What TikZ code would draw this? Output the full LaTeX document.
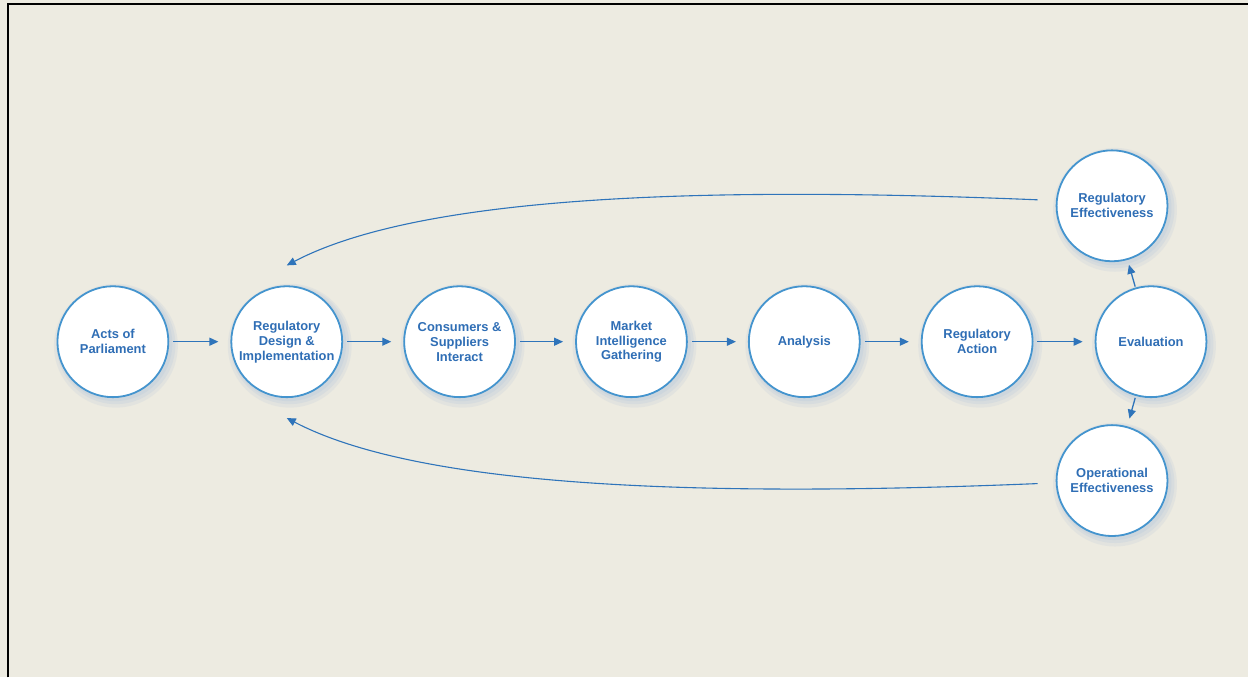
\documentclass[tikz,border=0pt]{standalone}
\usepackage{fontspec}
\setmainfont{Liberation Sans}
\usetikzlibrary{arrows.meta,calc,backgrounds}

\definecolor{paper}{HTML}{EDEBE1}
\definecolor{ring}{HTML}{4494CE}
\definecolor{ink}{HTML}{2F6EB5}
\definecolor{flow}{HTML}{2F74BA}
\definecolor{glow}{HTML}{C3CFDD}

\tikzset{
  stage/.style={circle, draw=ring, line width=1.8pt, fill=white,
    minimum size=111pt, inner sep=0pt, align=center, text=ink,
    font=\bfseries\fontsize{12.9}{15}\selectfont},
  arr/.style={draw=flow, line width=1.3pt,
    -{Triangle[length=9pt,width=8pt]}},
}

\begin{document}
\begin{tikzpicture}[x=1pt,y=-1pt]
  % process stages along the main line
  \node[stage] (ap) at (113,342) {Acts of\\Parliament};
  \node[stage] (rd) at (287,342) {Regulatory\\Design \&\\Implementation};
  \node[stage] (cs) at (460,342) {Consumers \&\\Suppliers\\Interact};
  \node[stage] (mi) at (632,342) {Market\\Intelligence\\Gathering};
  \node[stage] (an) at (805,342) {Analysis};
  \node[stage] (ra) at (978,342) {Regulatory\\Action};
  \node[stage] (ev) at (1152,342) {Evaluation};
  \node[stage] (re) at (1113,206) {Regulatory\\Effectiveness};
  \node[stage] (oe) at (1113,481) {Operational\\Effectiveness};

  % page, frame and soft halos behind the circles
  \begin{scope}[on background layer]
    \fill[paper] (0,0) rectangle (1249,678);
    \draw[black, line width=2.2pt] (8,678) -- (8,4) -- (1249,4);
    \foreach \n in {ap,rd,cs,mi,an,ra,ev,re,oe}{
      \fill[glow, opacity=0.25] ($(\n)+(3,4)$) circle (62);
      \fill[glow, opacity=0.35] ($(\n)+(3,3)$) circle (59.5);
      \fill[glow, opacity=0.45] ($(\n)+(2,2)$) circle (57.5);
    }
  \end{scope}

  % straight connectors
  \foreach \a/\b in {ap/rd,rd/cs,cs/mi,mi/an,an/ra,ra/ev}
    \draw[arr, shorten <=4pt, shorten >=12pt] (\a) -- (\b);
  \draw[arr, shorten <=1pt, shorten >=5pt] (ev) -- (re);
  \draw[arr, shorten <=2pt, shorten >=8pt] (ev) -- (oe);

  % feedback loops back to regulatory design
  \coordinate (reStart) at ($(re.west)+(-18,-6)$);
  \coordinate (oeStart) at ($(oe.west)+(-18,3)$);
  \draw[arr, line width=1.1pt] (reStart) .. controls (700,186) and (420,196) .. ($(rd.north)+(0,-20)$);
  \draw[arr, line width=1.1pt] (oeStart) .. controls (700,498) and (420,488) .. ($(rd.south)+(0,20)$);
\end{tikzpicture}
\end{document}
